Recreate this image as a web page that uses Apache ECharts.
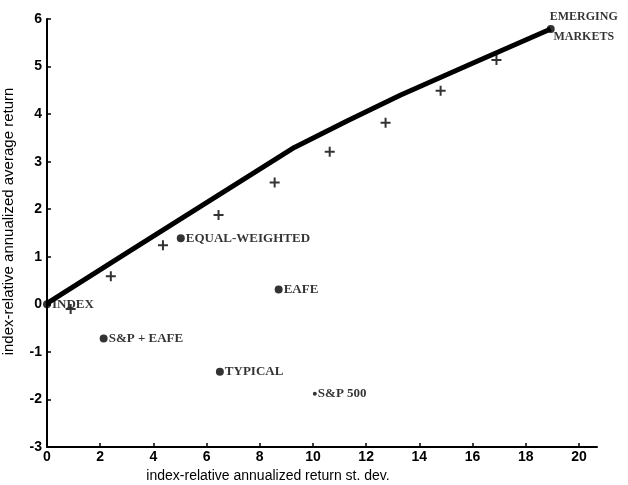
<!DOCTYPE html>
<html>
<head>
<meta charset="utf-8">
<script src="https://cdn.jsdelivr.net/npm/echarts@6/dist/echarts.min.js"></script>
<style>html,body{margin:0;padding:0;background:#fff;}#c{width:628px;height:485px;}</style>
</head>
<body>
<div id="c"></div>
<script>
// Frontier line
const lineX = [0, 3, 6, 9.3, 11.3, 13.3, 16, 18.94];
const lineY = [0.02, 1.08, 2.14, 3.3, 3.86, 4.4, 5.07, 5.79];
// Cross markers
const crossX = [0.89, 2.4, 4.36, 6.45, 8.56, 10.63, 12.73, 14.8, 16.9];
const crossY = [-0.1, 0.59, 1.24, 1.88, 2.56, 3.21, 3.82, 4.49, 5.14];
// Labelled portfolios
const pointNames = ['INDEX', 'EQUAL-WEIGHTED', 'EAFE', 'S&P + EAFE', 'TYPICAL', 'S&P 500', 'EMERGING\nMARKETS'];
const pointX = [0, 5.03, 8.71, 2.13, 6.5, 10.07, 18.94];
const pointY = [0, 1.39, 0.31, -0.72, -1.42, -1.88, 5.79];
// Tick labels
const xTicks = [0, 2, 4, 6, 8, 10, 12, 14, 16, 18, 20];
const yTicks = [-3, -2, -1, 0, 1, 2, 3, 4, 5, 6];
const xName = 'index-relative annualized return st. dev.';
const yName = 'index-relative annualized average return';

const ink = '#000';
const sans = "'Liberation Sans', Arial, sans-serif";
const serif = "'Liberation Serif', 'Times New Roman', serif";

const pointData = pointNames.map((n, i) => {
  const item = { name: n, value: [pointX[i], pointY[i]] };
  if (n === 'S&P 500') item.symbolSize = 4;
  if (n.indexOf('EMERGING') === 0) {
    item.label = { position: 'inside', offset: [33, -2], align: 'center', verticalAlign: 'middle', lineHeight: 20, fontSize: 12 };
  }
  return item;
});

const chart = echarts.init(document.getElementById('c'), null, { renderer: 'canvas' });
chart.setOption({
  animation: false,
  backgroundColor: '#fff',
  grid: { left: 47, top: 19, width: 550, height: 428, containLabel: false, outerBoundsMode: 'none' },
  xAxis: {
    type: 'value', min: 0, max: 20.68,
    name: xName, nameLocation: 'middle', nameGap: 21,
    nameTextStyle: { color: ink, fontFamily: sans, fontSize: 14, padding: [0, 108, 0, 0] },
    axisLine: { show: true, onZero: false, lineStyle: { color: ink, width: 2 } },
    axisTick: { show: true, inside: true, length: 4, customValues: xTicks, lineStyle: { color: ink, width: 1.5 } },
    axisLabel: { customValues: xTicks, color: ink, fontFamily: sans, fontWeight: 'bold', fontSize: 14, margin: 3 },
    splitLine: { show: false }
  },
  yAxis: {
    type: 'value', min: -3, max: 6, interval: 1,
    name: yName, nameLocation: 'middle', nameGap: 31, nameRotate: 90,
    nameTextStyle: { color: ink, fontFamily: sans, fontSize: 15, padding: [0, 0, 0, 23] },
    axisLine: { show: true, onZero: false, lineStyle: { color: ink, width: 2 } },
    axisTick: { show: true, inside: true, length: 4, customValues: yTicks, lineStyle: { color: ink, width: 1.5 } },
    axisLabel: { customValues: yTicks, color: ink, fontFamily: sans, fontWeight: 'bold', fontSize: 14, margin: 5 },
    splitLine: { show: false }
  },
  series: [
    {
      type: 'line',
      data: lineX.map((x, i) => [x, lineY[i]]),
      showSymbol: false,
      symbol: 'none',
      lineStyle: { color: ink, width: 5 },
      z: 2
    },
    {
      type: 'scatter',
      data: crossX.map((x, i) => [x, crossY[i]]),
      symbol: 'path://M4,0H6V4H10V6H6V10H4V6H0V4H4Z',
      symbolSize: 10,
      itemStyle: { color: ink },
      clip: false,
      z: 3
    },
    {
      type: 'scatter',
      data: pointData,
      symbol: 'circle',
      symbolSize: 8,
      itemStyle: { color: ink },
      clip: false,
      label: {
        show: true, position: 'right', distance: 1,
        formatter: p => p.name,
        color: ink, fontFamily: serif, fontWeight: 'bold', fontSize: 13
      },
      z: 4
    }
  ]
});
</script>
</body>
</html>
